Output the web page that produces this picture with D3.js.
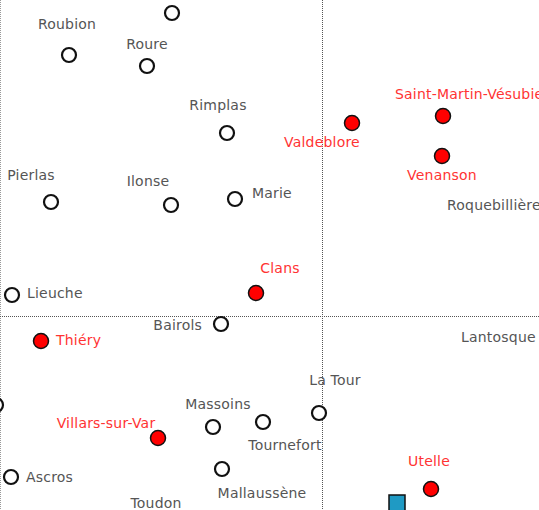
<!DOCTYPE html>
<html>
<head>
<meta charset="utf-8">
<script src="https://cdn.jsdelivr.net/npm/d3@7"></script>
<style>
  body { margin: 0; background: #fff; }
  svg { display: block; }
</style>
</head>
<body>
<main></main>
<script>
// communes on the first factorial plane (axis 1 / axis 2)
let communes = ["", "Roubion", "Roure", "Rimplas", "Pierlas", "Ilonse", "Marie", "Lieuche", "Bairols",
    "La Tour", "Massoins", "Tournefort", "Mallaussène", "Ascros", "", "Roquebillière", "Lantosque", "Toudon",
    "Valdeblore", "Saint-Martin-Vésubie", "Venanson", "Clans", "Thiéry", "Villars-sur-Var", "Utelle"]
let axis1 = [-1.50, -2.53, -1.75, -0.95, -2.71, -1.51, -0.87, -3.10, -1.01,
    -0.03, -1.09, -0.59, -1.00, -3.11, -3.26, 2.45, 2.45, -1.66,
    0.30, 1.21, 1.20, -0.66, -2.81, -1.64, 1.09]
let axis2 = [3.03, 2.61, 2.50, 1.83, 1.14, 1.11, 1.17, 0.21, -0.08,
    -0.97, -1.11, -1.06, -1.53, -1.61, -0.89, 1.11, -0.21, -2.14,
    1.93, 2.00, 1.60, 0.23, -0.25, -1.22, -1.73]
let groups = ["b", "b", "b", "b", "b", "b", "b", "b", "b",
    "b", "b", "b", "b", "b", "b", "b", "b", "b",
    "r", "r", "r", "r", "r", "r", "r"]

// supplementary point (square)
let suppX = [0.75]
let suppY = [-1.87]

// label placement next to each point: [dx, dy, anchor]
let labelPlace = [[0, -30, "middle"], [-2, -31, "middle"], [0, -22, "middle"], [-9, -28, "middle"],
    [-20, -27, "middle"], [-23, -24, "middle"], [17, -6, "start"], [15, -2, "start"], [-19, 1, "end"],
    [16, -33, "middle"], [5, -23, "middle"], [22, 23, "middle"], [40, 24, "middle"], [15, 0, "start"],
    [0, 0, "start"], [-120, 0, "start"], [-106, 0, "start"], [0, -27, "middle"],
    [-30, 19, "middle"], [-48, -22, "start"], [0, 19, "middle"], [24, -25, "middle"], [15, -1, "start"],
    [-52, -15, "middle"], [-2, -28, "middle"]]

let width = 539, height = 510

let svg = d3.select('main')
    .append('svg')
    .attr('width', width)
    .attr('height', height)

let x = d3.scaleLinear().domain([-3.22, 2.17]).range([0, width])
let y = d3.scaleLinear().domain([-1.94, 3.16]).range([height, 0])

let rows = communes.map(function (d, i) {
    return { name: d, x: axis1[i], y: axis2[i], g: groups[i], lp: labelPlace[i] }
})

// frame + axes through the origin
let axesGroup = svg.append("g")
    .style("stroke", "#555")
    .style("stroke-width", 1)
    .style("stroke-dasharray", "1,1")

axesGroup.append("line")
    .attr("x1", 0.5).attr("x2", 0.5)
    .attr("y1", 0).attr("y2", height)
    .style("stroke", "#999")
axesGroup.append("line")
    .attr("x1", Math.round(x(0)) + 0.5).attr("x2", Math.round(x(0)) + 0.5)
    .attr("y1", 0).attr("y2", height)
axesGroup.append("line")
    .attr("x1", 0).attr("x2", width)
    .attr("y1", Math.round(y(0)) + 0.5).attr("y2", Math.round(y(0)) + 0.5)

// labels
svg.append("g")
    .selectAll("text")
    .data(rows.filter(function (d) { return d.name !== "" }))
    .enter()
    .append("text")
    .attr("x", function (d) { return x(d.x) + d.lp[0] })
    .attr("y", function (d) { return y(d.y) + d.lp[1] })
    .attr("text-anchor", function (d) { return d.lp[2] })
    .attr("dominant-baseline", "central")
    .style("font-family", "DejaVu Sans, sans-serif")
    .style("font-size", "14px")
    .style("letter-spacing", "0.2px")
    .style("fill", function (d) { return d.g === "r" ? "#ff3333" : "#555" })
    .text(function (d) { return d.name })

// points
svg.append("g")
    .selectAll("circle")
    .data(rows)
    .enter()
    .append("circle")
    .attr("cx", function (d) { return x(d.x) })
    .attr("cy", function (d) { return y(d.y) })
    .attr("r", function (d) { return d.g === "r" ? 7.5 : 7 })
    .style("fill", function (d) { return d.g === "r" ? "#ff0000" : "#fff" })
    .style("stroke", "#111")
    .style("stroke-width", function (d) { return d.g === "r" ? 1.5 : 2.2 })

svg.append("g")
    .selectAll("rect")
    .data(suppX)
    .enter()
    .append("rect")
    .attr("x", function (d) { return x(d) - 8 })
    .attr("y", function (d, i) { return y(suppY[i]) - 8 })
    .attr("width", 16)
    .attr("height", 16)
    .style("fill", "#1f9ac4")
    .style("stroke", "#111")
    .style("stroke-width", 1.5)
</script>
</body>
</html>
